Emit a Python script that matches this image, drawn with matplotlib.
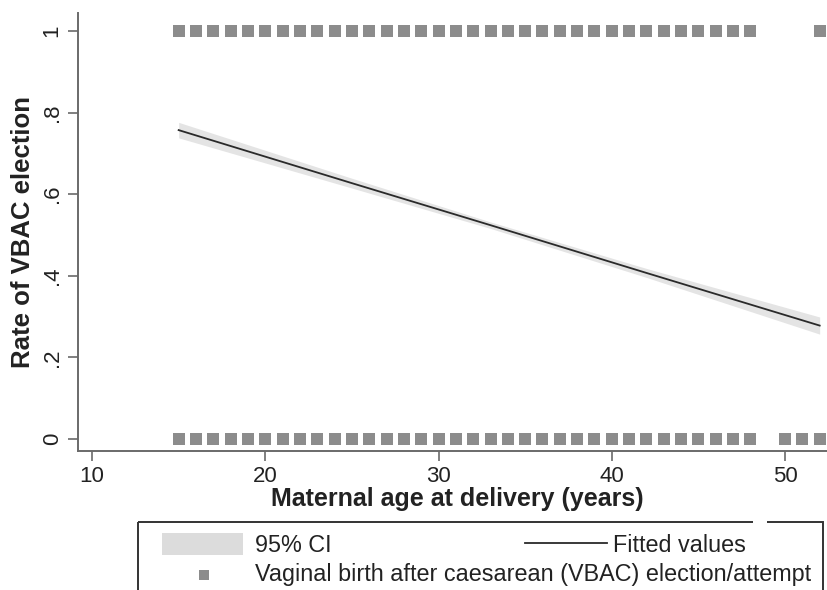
import matplotlib.pyplot as plt
from matplotlib.patches import Rectangle
from matplotlib.lines import Line2D

plt.rcParams['font.family'] = ['Liberation Sans', 'DejaVu Sans']

# observed outcomes (0 = no VBAC, 1 = VBAC election/attempt), by age
ages_yes = [15, 16, 17, 18, 19, 20, 21, 22, 23, 24, 25, 26, 27, 28, 29, 30, 31,
            32, 33, 34, 35, 36, 37, 38, 39, 40, 41, 42, 43, 44, 45, 46, 47, 48, 52]
ages_no = [15, 16, 17, 18, 19, 20, 21, 22, 23, 24, 25, 26, 27, 28, 29, 30, 31,
           32, 33, 34, 35, 36, 37, 38, 39, 40, 41, 42, 43, 44, 45, 46, 47, 48, 50, 51, 52]

# fitted values and 95% CI
fit_age = [15, 25, 33, 42, 52]
fit_val = [0.757, 0.627, 0.524, 0.407, 0.278]
ci_low = [0.738, 0.615, 0.516, 0.396, 0.257]
ci_high = [0.776, 0.639, 0.532, 0.418, 0.299]

fig = plt.figure(figsize=(8.27, 5.90), dpi=100)
ax = fig.add_axes([78 / 827, 139 / 590, 759 / 827, 438 / 590])

grey = '#8c8c8c'
ax.fill_between(fit_age, ci_low, ci_high, color='#e4e4e4', lw=0, zorder=1)
ax.plot(fit_age, fit_val, color='#2a2a2a', lw=1.3, zorder=2)
ax.plot(ages_yes, [1] * len(ages_yes), 's', color=grey, ms=8, mew=0, zorder=3)
ax.plot(ages_no, [0] * len(ages_no), 's', color=grey, ms=8, mew=0, zorder=3)

ax.set_xlim(9.19, 53)
ax.set_ylim(-0.0294, 1.044)
ax.set_xticks([10, 20, 30, 40, 50])
ax.set_yticks([0, 0.2, 0.4, 0.6, 0.8, 1])
ax.set_yticklabels(['0', '.2', '.4', '.6', '.8', '1'], rotation=90, va='center')

for s in ['top', 'right']:
    ax.spines[s].set_visible(False)
for s in ['left', 'bottom']:
    ax.spines[s].set_color('#6a6a6a')
    ax.spines[s].set_linewidth(1.4)
ax.tick_params(colors='#6a6a6a', length=7, width=1.2, labelsize=16, labelcolor='#222222', pad=4)

ax.set_xlabel('Maternal age at delivery (years)', fontsize=18, fontweight='bold',
              color='#222222', labelpad=0)
ax.set_ylabel('Rate of VBAC election', fontsize=18.5, fontweight='bold',
              color='#222222', labelpad=5)

# legend box, Stata style, drawn in pixel coordinates
lax = fig.add_axes([0, 0, 1, 1], zorder=5)
lax.set_xlim(0, 827)
lax.set_ylim(590, 0)
lax.axis('off')
lax.add_patch(Rectangle((138, 522), 685, 120, fill=False, ec='#333333', lw=1.4, clip_on=False))
lax.add_patch(Rectangle((753, 518), 14, 8, fc='white', ec='none'))
lax.add_patch(Rectangle((162, 533), 81, 22, fc='#dcdcdc', ec='none'))
lax.text(255, 545, '95% CI', fontsize=16.8, color='#222222', va='center')
lax.add_line(Line2D([525, 607], [543, 543], color='#2a2a2a', lw=1.3))
lax.text(613, 545, 'Fitted values', fontsize=16.8, color='#222222', va='center')
lax.plot([204], [575], 's', color=grey, ms=7, mew=0)
lax.text(255, 575, 'Vaginal birth after caesarean (VBAC) election/attempt',
         fontsize=16.8, color='#222222', va='center')

fig.savefig('out.png', dpi=100)
